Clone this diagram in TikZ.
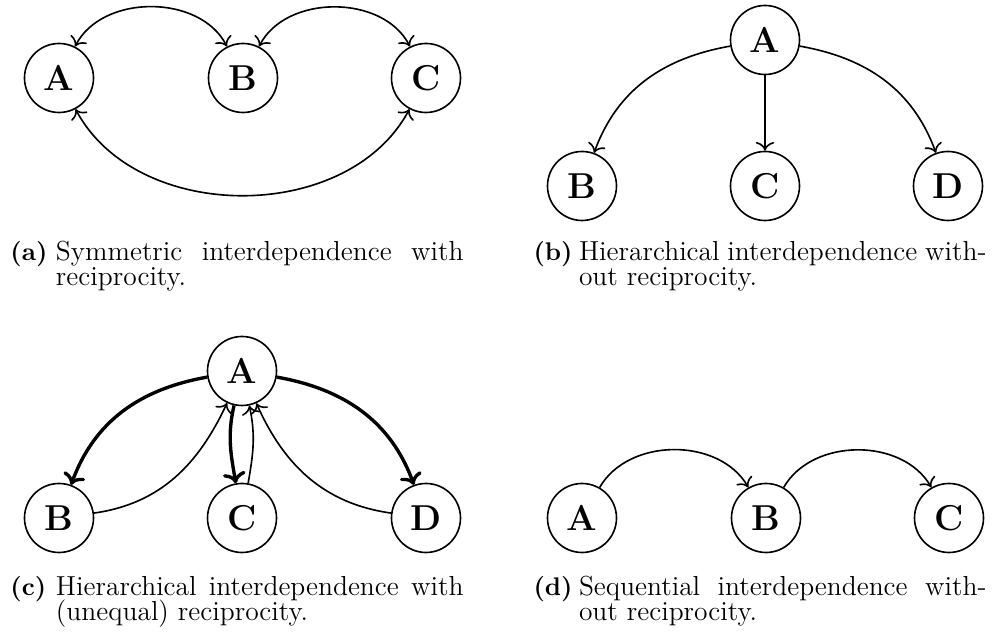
\documentclass[tikz,border=0pt]{standalone}
\usetikzlibrary{arrows.meta}
\begin{document}
\begin{tikzpicture}[x=0.4pt,y=0.4pt,
  nd/.style={circle, draw, line width=0.65pt, minimum size=27.6pt, inner sep=0pt, font=\Large\bfseries},
  thin arc/.style={line width=0.65pt, arrows={-To[scale=1.15]}},
  both arc/.style={line width=0.65pt, arrows={To[scale=1.15]-To[scale=1.15]}},
  heavy arc/.style={line width=1.35pt, arrows={-To[scale=0.95]}},
  captext/.style={inner sep=0pt, anchor=base west, font=\fontsize{11}{13}\selectfont},
  caplabel/.style={inner sep=0pt, anchor=base west, font=\fontsize{10.2}{12}\selectfont\bfseries}]
\useasboundingbox (0,0) rectangle (995,632);

% (a) symmetric
\node[nd] (aA) at (59,554) {A};
\node[nd] (aB) at (243,554) {B};
\node[nd] (aC) at (426,554) {C};
\draw[both arc] (aA) to[out=63,in=117] (aB);
\draw[both arc] (aB) to[out=63,in=117] (aC);
\draw[both arc] (aA) to[out=-62,in=-118] (aC);

% (b) hierarchical, no reciprocity
\node[nd] (bA) at (765,592) {A};
\node[nd] (bB) at (582,446) {B};
\node[nd] (bC) at (765,446) {C};
\node[nd] (bD) at (948,446) {D};
\draw[thin arc] (bA) to[out=190,in=70] (bB);
\draw[thin arc] (bA) -- (bC);
\draw[thin arc] (bA) to[out=-10,in=110] (bD);

% (c) hierarchical, unequal reciprocity
\node[nd] (cA) at (242,261) {A};
\node[nd] (cB) at (59,114) {B};
\node[nd] (cC) at (242,114) {C};
\node[nd] (cD) at (426,114) {D};
\draw[heavy arc] (cA) to[out=190,in=70] (cB);
\draw[heavy arc] (cA) to[out=-103,in=100] (cC);
\draw[heavy arc] (cA) to[out=-10,in=110] (cD);
\draw[thin arc] (cB) to[out=8,in=-115] (cA);
\draw[thin arc] (cC) to[out=80,in=-78] (cA);
\draw[thin arc] (cD) to[out=172,in=-66] (cA);

% (d) sequential
\node[nd] (dA) at (582,114) {A};
\node[nd] (dB) at (766,114) {B};
\node[nd] (dC) at (949,114) {C};
\draw[thin arc] (dA) to[out=60,in=120] (dB);
\draw[thin arc] (dB) to[out=60,in=120] (dC);

% captions
\node[caplabel] (laba) at (10,371) {(a)};
\node[captext] (capa1) at (55.5,371) {\makebox[163pt][s]{Symmetric interdependence with}};
\node[captext] (capa2) at (55.5,346) {reciprocity.};

\node[caplabel] (labb) at (533,371) {(b)};
\node[captext] (capb1) at (578.5,371) {\makebox[163pt][s]{Hierarchical interdependence with-}};
\node[captext] (capb2) at (578.5,346) {out reciprocity.};

\node[caplabel] (labc) at (10,36) {(c)};
\node[captext] (capc1) at (55.5,36) {\makebox[163pt][s]{Hierarchical interdependence with}};
\node[captext] (capc2) at (55.5,11) {(unequal) reciprocity.};

\node[caplabel] (labd) at (533,36) {(d)};
\node[captext] (capd1) at (578.5,36) {\makebox[163pt][s]{Sequential interdependence with-}};
\node[captext] (capd2) at (578.5,11) {out reciprocity.};
\end{tikzpicture}
\end{document}
